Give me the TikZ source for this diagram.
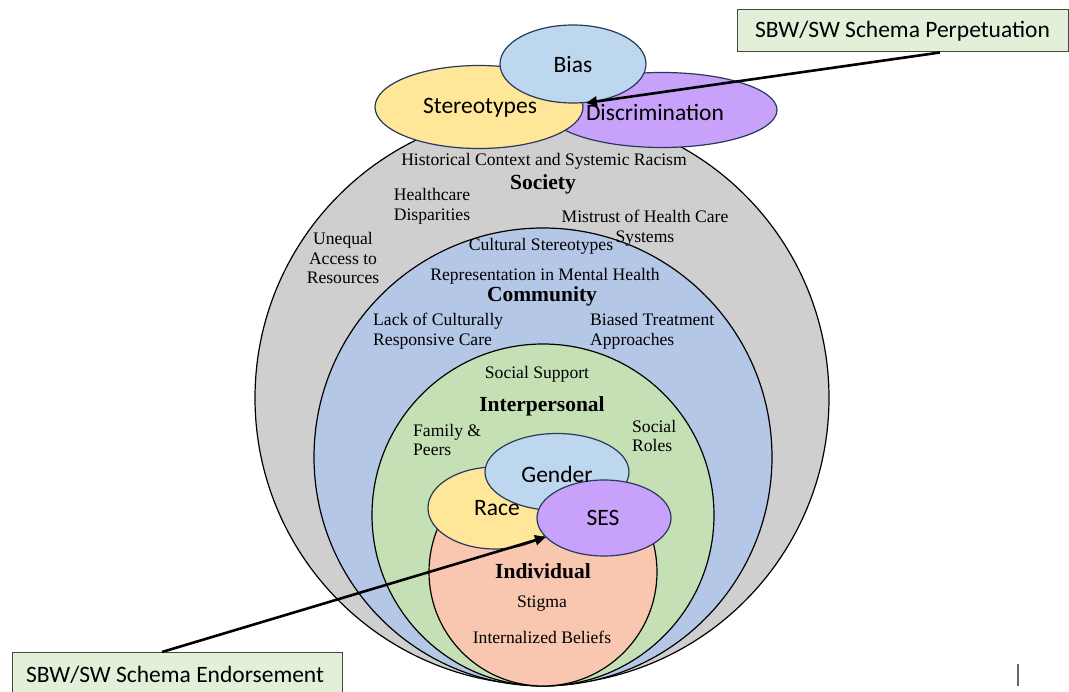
\documentclass[tikz,border=0pt]{standalone}
\usepackage{fontspec}
\setmainfont{Liberation Serif}
\newfontfamily\calfont{Carlito}
\usetikzlibrary{shapes.geometric,arrows.meta}
\definecolor{socgray}{RGB}{208,207,207}
\definecolor{comblue}{RGB}{180,199,231}
\definecolor{intgreen}{RGB}{197,224,180}
\definecolor{indpink}{RGB}{249,198,176}
\definecolor{ylw}{RGB}{255,230,153}
\definecolor{lblue}{RGB}{189,215,238}
\definecolor{purp}{RGB}{200,162,250}
\definecolor{navy}{RGB}{40,58,92}
\definecolor{boxgreen}{RGB}{226,240,217}
\definecolor{boxedge}{RGB}{70,70,70}
\tikzset{
  ring/.style={circle, draw=black, line width=1.2pt, inner sep=0pt, minimum size=#1},
  ell/.style={ellipse, draw=navy, line width=1.2pt, inner sep=0pt},
  lbl/.style={font=\fontsize{17.6}{19.6}\selectfont, align=center, inner sep=0pt},
  lbll/.style={font=\fontsize{17.6}{19.6}\selectfont, align=left, inner sep=0pt},
  head/.style={font=\fontsize{21.5}{24}\selectfont\bfseries, inner sep=0pt},
  elbl/.style={font=\calfont\fontsize{23.5}{26}\selectfont, inner sep=0pt},
  schema/.style={draw=boxedge, fill=boxgreen, line width=1pt, inner sep=0pt, font=\calfont\fontsize{23.5}{26}\selectfont},
  arr/.style={line width=2.6pt, -{Triangle[length=11pt,width=10pt]}}
}
\begin{document}
\begin{tikzpicture}[x=1pt,y=-1pt]
\useasboundingbox (0,0) rectangle (1069,692);
% nested circles
\node[ring=574pt, fill=socgray] (soc) at (542,398) {};
\node[ring=458pt, fill=comblue] (com) at (543,457) {};
\node[ring=342pt, fill=intgreen] (int) at (543,515) {};
\node[ring=228pt, fill=indpink] (ind) at (543,572) {};
% individual ellipses
\node[ell, fill=ylw, minimum width=134pt, minimum height=82pt] (race) at (495,508) {};
\node[ell, fill=lblue, minimum width=144pt, minimum height=77pt] (gender) at (557,472) {};
\node[ell, fill=purp, minimum width=134pt, minimum height=76pt] (ses) at (604,518) {};
\node[elbl] (tgender) at (557,474) {Gender};
\node[elbl] (trace) at (497,508) {Race};
\node[elbl] (tses) at (603,518) {SES};
% top ellipses
\node[ell, fill=purp, minimum width=230pt, minimum height=75pt] (disc) at (662,110) {};
\node[ell, fill=ylw, minimum width=208pt, minimum height=83pt] (stereo) at (479,107) {};
\node[ell, fill=lblue, minimum width=146pt, minimum height=78pt] (bias) at (573,64) {};
\node[elbl] (tbias) at (573,65) {Bias};
\node[elbl] (tstereo) at (480,108) {Stereotypes};
\node[elbl] (tdisc) at (655,112) {Discrimination};
% society texts
\node[lbl] (hist) at (544,161) {Historical Context and Systemic Racism};
\node[head] (hsoc) at (543,184) {Society};
\node[lbl] (hcd) at (432,206) {Healthcare\\Disparities};
\node[lbl] (mist) at (645,228) {Mistrust of Health Care\\Systems};
\node[lbl] (uneq) at (343,258) {Unequal\\Access to\\Resources};
% community texts
\node[lbl] (cult) at (541,246) {Cultural Stereotypes};
\node[lbl] (repr) at (545,276) {Representation in Mental Health};
\node[head] (hcom) at (542,296) {Community};
\node[lbll, anchor=west] (lack) at (373,331) {Lack of Culturally\\Responsive Care};
\node[lbll, anchor=west] (biased) at (590,331) {Biased Treatment\\Approaches};
% interpersonal texts
\node[lbl] (supp) at (537,374) {Social Support};
\node[head] (hint) at (542,406) {Interpersonal};
\node[lbll, anchor=west] (fam) at (413,440) {Family \&\\Peers};
\node[lbll, anchor=west] (roles) at (632,436) {Social\\Roles};
% individual texts
\node[head] (hind) at (543,571) {Individual};
\node[lbl] (stig) at (542,604) {Stigma};
\node[lbl] (intb) at (542,637) {Internalized Beliefs};
% schema boxes
\node[schema, minimum width=331pt, minimum height=42pt] (perp) at (902.5,31) {SBW/SW Schema Perpetuation};
\node[schema, minimum width=330pt, minimum height=48pt, anchor=north west] (endo) at (12,652) {};
\node[font=\calfont\fontsize{23.5}{26}\selectfont, inner sep=0pt] (tendo) at (175,675) {SBW/SW Schema Endorsement};
% arrows
\coordinate (p1) at (perp.south -| 940,0);
\coordinate (t1) at (586,103);
\coordinate (p2) at (endo.north -| 162,0);
\coordinate (t2) at (546,537);
\draw[arr] (p1) -- (t1);
\draw[arr] (p2) -- (t2);
% stray mark
\draw[gray!80!black, line width=1.8pt] (1018,664) -- (1018,686);
\end{tikzpicture}
\end{document}
